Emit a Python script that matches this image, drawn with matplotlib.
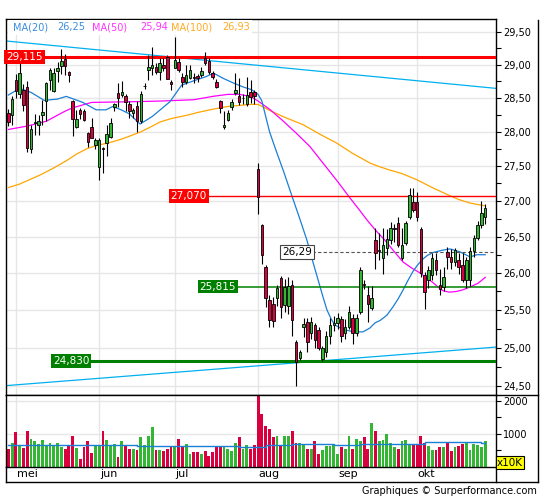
import matplotlib
matplotlib.use("Agg")
import matplotlib.pyplot as plt
import matplotlib.transforms as mtransforms
from matplotlib.lines import Line2D
from matplotlib.patches import Rectangle
from matplotlib.ticker import FixedLocator, NullFormatter, FuncFormatter

# Cours (ouverture, plus haut, plus bas, cloture) par seance
opens = [28.27, 28.24, 28.77, 28.55, 28.62, 28.66, 27.75, 28.12, 28.10, 28.24,
         28.45, 28.77, 28.60, 28.90, 28.98, 29.08, 28.88, 28.45, 28.07, 28.32,
         28.30, 27.98, 28.07, 27.80, 27.48, 27.76, 27.83, 27.92, 28.36, 28.57,
         28.54, 28.52, 28.40, 28.27, 28.38, 28.15, 28.67, 28.92, 28.95, 28.97,
         28.89, 29.00, 29.11, 28.73, 28.95, 29.04, 28.81, 28.73, 28.80, 28.81,
         28.82, 28.84, 29.10, 29.06, 28.87, 28.74, 28.45, 28.07, 28.17, 28.36,
         28.57, 28.52, 28.49, 28.40, 28.59, 28.58, 27.46, 26.66, 26.08, 25.64,
         25.58, 25.66, 25.93, 25.57, 25.55, 25.84, 25.08, 24.87, 25.27, 25.34,
         25.19, 25.30, 25.23, 24.85, 24.95, 25.15, 25.30, 25.33, 25.38, 25.20,
         25.28, 25.40, 25.20, 25.47, 25.85, 25.70, 25.53, 26.45, 26.30, 26.21,
         26.34, 26.45, 26.61, 26.69, 26.21, 26.41, 26.78, 26.99, 26.99, 26.61,
         25.97, 25.91, 25.97, 26.18, 25.84, 25.81, 26.29, 26.22, 26.15, 26.18,
         26.11, 25.91, 25.90, 26.30, 26.48, 26.66, 26.78]
highs = [28.33, 28.52, 28.85, 29.10, 28.70, 28.75, 28.10, 28.26, 28.25, 28.46,
         28.74, 28.95, 28.95, 29.04, 29.24, 29.16, 28.90, 28.47, 28.32, 28.35,
         28.33, 28.00, 28.20, 27.90, 27.90, 27.78, 28.10, 28.20, 28.42, 28.72,
         28.75, 28.55, 28.45, 28.35, 28.45, 28.60, 28.72, 29.15, 29.27, 29.02,
         29.10, 29.10, 29.15, 28.77, 29.42, 29.10, 28.87, 28.99, 29.00, 28.87,
         28.86, 28.96, 29.19, 29.10, 28.90, 28.78, 28.47, 28.30, 28.32, 28.48,
         28.87, 28.80, 28.55, 28.81, 28.77, 28.62, 27.54, 26.68, 26.11, 25.70,
         25.67, 25.83, 25.96, 25.92, 25.95, 25.91, 25.10, 24.97, 25.39, 25.40,
         25.41, 25.33, 25.27, 25.03, 25.22, 25.40, 25.42, 25.46, 25.42, 25.38,
         25.55, 25.45, 25.45, 26.08, 25.90, 25.82, 25.82, 26.62, 26.55, 26.62,
         26.60, 26.70, 26.68, 26.78, 26.62, 26.72, 27.18, 27.18, 27.13, 26.64,
         26.02, 26.10, 26.28, 26.28, 26.05, 26.08, 26.35, 26.33, 26.34, 26.28,
         26.28, 26.22, 26.35, 26.52, 26.72, 27.00, 26.95]
lows = [28.08, 28.10, 28.50, 28.50, 28.30, 27.70, 27.68, 27.95, 27.95, 28.10,
        28.15, 28.62, 28.58, 28.74, 28.85, 28.84, 28.74, 27.93, 28.05, 28.18,
        28.15, 27.78, 27.90, 27.75, 27.30, 27.40, 27.64, 27.90, 28.30, 28.36,
        28.51, 28.30, 28.20, 28.20, 27.99, 28.12, 28.63, 28.77, 28.84, 28.86,
        28.77, 28.90, 28.78, 28.62, 28.95, 28.88, 28.66, 28.71, 28.78, 28.72,
        28.74, 28.81, 29.00, 28.86, 28.78, 28.64, 28.27, 28.03, 28.15, 28.32,
        28.54, 28.39, 28.40, 28.37, 28.42, 28.40, 26.81, 26.12, 25.54, 25.28,
        25.27, 25.56, 25.40, 25.48, 25.45, 25.15, 24.50, 24.84, 25.14, 24.95,
        25.11, 25.00, 24.97, 24.83, 24.88, 25.05, 25.22, 25.25, 25.08, 25.12,
        25.25, 25.05, 25.15, 25.45, 25.78, 25.34, 25.50, 26.05, 26.18, 25.98,
        26.25, 26.40, 26.42, 26.35, 26.18, 26.38, 26.74, 26.85, 26.72, 25.95,
        25.52, 25.80, 25.90, 25.97, 25.70, 25.76, 26.05, 26.05, 26.10, 25.98,
        25.88, 25.80, 25.82, 26.22, 26.45, 26.62, 26.68]
closes = [28.14, 28.48, 28.60, 28.87, 28.39, 27.76, 28.04, 28.14, 28.15, 28.29,
          28.72, 28.92, 28.87, 28.95, 29.05, 28.98, 28.84, 28.18, 28.19, 28.26,
          28.17, 27.85, 27.91, 27.87, 27.87, 27.74, 27.97, 28.13, 28.40, 28.49,
          28.59, 28.43, 28.30, 28.31, 28.15, 28.55, 28.68, 28.97, 29.00, 28.88,
          29.02, 28.95, 28.78, 28.71, 29.07, 28.92, 28.73, 28.84, 28.92, 28.79,
          28.79, 28.90, 29.02, 28.89, 28.81, 28.66, 28.35, 28.10, 28.27, 28.43,
          28.61, 28.43, 28.50, 28.54, 28.51, 28.52, 27.06, 26.25, 25.66, 25.37,
          25.35, 25.80, 25.54, 25.81, 25.82, 25.37, 24.82, 24.94, 25.31, 25.08,
          25.34, 25.10, 25.00, 25.00, 25.15, 25.30, 25.33, 25.40, 25.15, 25.28,
          25.47, 25.20, 25.39, 26.04, 25.84, 25.58, 25.66, 26.28, 26.32, 26.38,
          26.47, 26.62, 26.62, 26.39, 26.39, 26.69, 27.08, 26.87, 26.77, 26.00,
          25.74, 26.04, 26.20, 26.04, 25.78, 25.95, 26.22, 26.15, 26.31, 26.08,
          25.91, 26.18, 26.30, 26.48, 26.66, 26.83, 26.90]

# Volumes (x10K)
volumes = [530, 730, 1060, 680, 580, 1100, 860, 800, 710, 830,
           630, 730, 680, 730, 600, 530, 630, 950, 580, 230,
           610, 800, 410, 680, 680, 1080, 830, 680, 700, 300,
           800, 660, 530, 530, 500, 900, 660, 950, 1200, 500,
           500, 480, 530, 630, 630, 860, 630, 710, 380, 440,
           440, 380, 470, 320, 450, 600, 630, 630, 560, 470,
           730, 920, 560, 660, 560, 680, 2150, 1610, 1230, 1160,
           900, 950, 680, 930, 930, 1100, 730, 730, 710, 560,
           530, 800, 380, 500, 630, 630, 700, 380, 610, 530,
           930, 560, 860, 800, 900, 530, 1330, 1100, 780, 830,
           1000, 730, 600, 560, 800, 830, 700, 680, 680, 950,
           720, 630, 500, 500, 620, 600, 750, 480, 620, 630,
           710, 760, 500, 700, 680, 610, 800]

# Moyennes mobiles (seance, valeur)
ma20_idx = [0, 3, 6, 9.5, 13, 15.3, 19.7, 23.2, 25.8, 27.6, 29.8, 32, 34.8, 38,
            42.7, 45.8, 49.8, 52.4, 54.2, 56.8, 59.5, 62.1, 64.3, 66, 67, 69,
            70.5, 72.8, 75, 77, 78.9, 80.2, 81.6, 83, 84.2, 85.3, 86.3, 87.8,
            89.5, 91.5, 93.7, 95.5, 96.9, 98.2, 100, 101.6, 103, 104.3, 105.6,
            106.9, 108, 109.3, 110.7, 112.2, 114.5, 116.7, 119.3, 122, 123.8, 126]
ma20_val = [28.54, 28.64, 28.58, 28.46, 28.48, 28.52, 28.43, 28.32, 28.32, 28.37,
            28.32, 28.26, 28.11, 28.22, 28.44, 28.69, 28.77, 28.82, 28.87, 28.79,
            28.72, 28.66, 28.62, 28.55, 28.45, 28.00, 27.76, 27.41, 27.06, 26.75,
            26.45, 26.20, 25.95, 25.70, 25.50, 25.38, 25.30, 25.26, 25.23, 25.21,
            25.21, 25.26, 25.33, 25.36, 25.43, 25.54, 25.65, 25.77, 25.90, 26.02,
            26.10, 26.18, 26.24, 26.28, 26.31, 26.33, 26.29, 26.22, 26.25, 26.25]
ma50_idx = [0, 5, 10, 15, 17, 22, 32, 40, 49, 54, 58, 61, 64, 66, 69, 72.5, 76,
            79.7, 83, 86.8, 90.3, 92.5, 94.8, 97, 99.5, 102, 104.3, 106.5, 108.8,
            110.5, 112.2, 113.5, 114.8, 116.5, 118.5, 120, 122, 124.1, 126]
ma50_val = [28.03, 28.08, 28.15, 28.30, 28.35, 28.43, 28.44, 28.45, 28.47, 28.52,
            28.55, 28.55, 28.52, 28.45, 28.33, 28.16, 27.98, 27.78, 27.55, 27.29,
            27.04, 26.89, 26.73, 26.59, 26.45, 26.29, 26.15, 26.07, 26.00, 25.93,
            25.87, 25.81, 25.76, 25.74, 25.75, 25.77, 25.81, 25.86, 25.94]
ma100_idx = [0, 3, 8.4, 12, 15.5, 18, 20.8, 23, 26.9, 30, 34.8, 37, 40.1, 43,
             47.2, 50, 54.1, 58, 63.9, 66, 69.1, 73, 77.9, 82, 86.8, 91, 95.6,
             98, 100.8, 104, 108, 112, 116, 119, 122, 126]
ma100_val = [27.19, 27.24, 27.37, 27.47, 27.58, 27.67, 27.75, 27.79, 27.84, 27.89,
             27.99, 28.05, 28.14, 28.19, 28.24, 28.28, 28.33, 28.37, 28.40, 28.40,
             28.31, 28.21, 28.10, 27.97, 27.83, 27.68, 27.54, 27.49, 27.44, 27.39,
             27.30, 27.19, 27.09, 27.02, 26.97, 26.93]
vma_idx = [0, 17, 20, 22, 33, 34, 44, 60, 61, 67, 68, 74, 75, 85, 86, 92, 93,
           109, 110, 124, 125, 126]
vma_val = [660, 660, 680, 660, 660, 630, 640, 640, 610, 610, 670, 670, 700, 700,
           660, 660, 700, 700, 760, 760, 720, 720]

# Lignes de tendance (debut, fin)
trend_up_x = [-0.61, 128.85]
trend_up_y = [29.36, 28.64]
trend_low_x = [-0.61, 128.85]
trend_low_y = [24.51, 25.01]

month_starts = [2, 24, 44, 66, 87, 108]
month_labels = ["mei", "jun", "jul", "aug", "sep", "okt"]

W, H = 545, 500


def fx(px):
    return px / W


def fy(py):
    return 1 - py / H


fig = plt.figure(figsize=(5.45, 5.0), dpi=100)
ax = fig.add_axes([fx(6), fy(395), fx(496) - fx(6), fy(19) - fy(395)])
axv = fig.add_axes([fx(6), fy(467), fx(496) - fx(6), fy(395) - fy(467)], sharex=ax)

idx = list(range(len(closes)))
up = [c >= o for o, c in zip(opens, closes)]
green = "#33b633"
red = "#d9003f"
cols = [green if u else red for u in up]

# --- graphique des cours ---
ax.set_yscale("log")
ax.set_xlim(-0.61, 128.85)
ax.set_ylim(24.39, 29.70)
major = [24.5, 25.0, 25.5, 26.0, 26.5, 27.0, 27.5, 28.0, 28.5, 29.0, 29.5]
minor = [24.75, 25.25, 25.75, 26.25, 26.75, 27.25, 27.75, 28.25, 28.75, 29.25]
ax.yaxis.set_major_locator(FixedLocator(major))
ax.yaxis.set_minor_locator(FixedLocator(minor))
ax.yaxis.set_major_formatter(FuncFormatter(lambda v, p: f"{v:.2f}".replace(".", ",")))
ax.yaxis.set_minor_formatter(NullFormatter())
ax.yaxis.tick_right()
ax.tick_params(axis="y", which="both", direction="out", length=3.5, width=0.8,
               pad=1.5, labelsize=7, colors="black")
ax.set_xticks(month_starts)
ax.tick_params(axis="x", length=0, labelbottom=False)
ax.grid(True, which="major", color="#e6e6e6", lw=1)
ax.set_axisbelow(True)
for s in ax.spines.values():
    s.set_linewidth(1)

ax.plot(trend_up_x, trend_up_y, color="#00b0f0", lw=0.9, zorder=2)
ax.plot(trend_low_x, trend_low_y, color="#00b0f0", lw=0.9, zorder=2)

ax.plot(ma100_idx, ma100_val, color="#ffa500", lw=0.9, zorder=3)
ax.plot(ma50_idx, ma50_val, color="#ff00ff", lw=0.9, zorder=3)
ax.plot(ma20_idx, ma20_val, color="#1a7fd6", lw=0.9, zorder=3)

blend = mtransforms.blended_transform_factory(ax.transAxes, ax.transData)


def axfrac(px):
    return (px - 6) / 490


# lignes horizontales avec etiquettes
ax.axhline(29.115, color="#ff0000", lw=2.2, zorder=4)
ax.plot([axfrac(207), 1], [27.07, 27.07], transform=blend, color="#ff0000", lw=1.0, zorder=4)
ax.plot([axfrac(237), 1], [25.815, 25.815], transform=blend, color="#008000", lw=1.1, zorder=4)
ax.plot([axfrac(90), 1], [24.83, 24.83], transform=blend, color="#008000", lw=2.2, zorder=4)
ax.plot([axfrac(312), 1], [26.29, 26.29], transform=blend, color="#555555", lw=0.8,
        dashes=(3, 2), zorder=4)

box_kw = dict(ha="center", va="center", fontsize=7.5, transform=blend, zorder=8)
ax.text(axfrac(24.5), 29.115, "29,115", color="white",
        bbox=dict(boxstyle="square,pad=0.18", fc="#ff0000", ec="none"), **box_kw)
ax.text(axfrac(188.5), 27.07, "27,070", color="white",
        bbox=dict(boxstyle="square,pad=0.18", fc="#ff0000", ec="none"), **box_kw)
ax.text(axfrac(218), 25.815, "25,815", color="white",
        bbox=dict(boxstyle="square,pad=0.18", fc="#008000", ec="none"), **box_kw)
ax.text(axfrac(71), 24.83, "24,830", color="white",
        bbox=dict(boxstyle="square,pad=0.18", fc="#008000", ec="none"), **box_kw)
ax.text(axfrac(297), 26.29, "26,29", color="black",
        bbox=dict(boxstyle="square,pad=0.18", fc="white", ec="#444444", lw=0.8), **box_kw)

# bougies
ax.vlines(idx, lows, highs, color="black", lw=0.8, zorder=5)
bottoms = [min(o, c) for o, c in zip(opens, closes)]
heights = [max(abs(c - o), 0.012) for o, c in zip(opens, closes)]
ax.bar(idx, heights, bottom=bottoms, width=0.66, color=cols, edgecolor="black",
       linewidth=0.6, zorder=6)

# --- volumes ---
axv.bar(idx, volumes, width=0.75, color=cols, linewidth=0, zorder=2)
axv.step(vma_idx, vma_val, where="post", color="#1a7fd6", lw=1.0, zorder=3)
axv.set_ylim(0, 2180)
axv.yaxis.tick_right()
axv.yaxis.set_major_locator(FixedLocator([1000, 2000]))
axv.yaxis.set_minor_locator(FixedLocator([500, 1500]))
axv.yaxis.set_minor_formatter(NullFormatter())
axv.tick_params(axis="y", which="both", direction="out", length=3.5, width=0.8,
                pad=1.5, labelsize=7)
axv.set_xticks(month_starts)
axv.tick_params(axis="x", length=0, labelbottom=False)
axv.grid(True, which="major", color="#e6e6e6", lw=1)
axv.set_axisbelow(True)
for s in axv.spines.values():
    s.set_linewidth(1)

vblend = mtransforms.blended_transform_factory(axv.transData, axv.transAxes)
for m, lab in zip(month_starts, month_labels):
    axv.text(m + 0.2, -0.1, lab, transform=vblend, ha="left", va="center",
             fontsize=8, clip_on=False)


# cadre exterieur
def fig_line(x0, y0, x1, y1):
    fig.add_artist(Line2D([fx(x0), fx(x1)], [fy(y0), fy(y1)], transform=fig.transFigure,
                          color="black", lw=1))


fig_line(538, 19.5, 538, 482)
fig_line(6, 482, 538, 482)
fig_line(6, 467, 6, 482)
fig_line(496, 467, 496, 482)
fig_line(496, 395, 538, 395)

# legende des moyennes mobiles
fig.add_artist(Rectangle((fx(8), fy(35)), fx(252) - fx(8), fy(20) - fy(35),
                         transform=fig.transFigure, fc="white", ec="none", zorder=1))
leg = [(13, "MA(20)", "#3a8de0"), (57, "26,25", "#3a8de0"),
       (92, "MA(50)", "#ff33ff"), (140, "25,94", "#ff33ff"),
       (171, "MA(100)", "#ffaa22"), (222, "26,93", "#ffaa22")]
for px, t, c in leg:
    fig.text(fx(px), fy(27), t, color=c, fontsize=7, ha="left", va="center")

fig.text(fx(510), fy(462.5), "x10K", ha="center", va="center", fontsize=7.5,
         bbox=dict(boxstyle="square,pad=0.12", fc="#ffff00", ec="black", lw=0.8))
fig.text(fx(537), fy(491), "Graphiques \u00a9 Surperformance.com", ha="right",
         va="center", fontsize=7)

fig.savefig("out.png", dpi=100)
